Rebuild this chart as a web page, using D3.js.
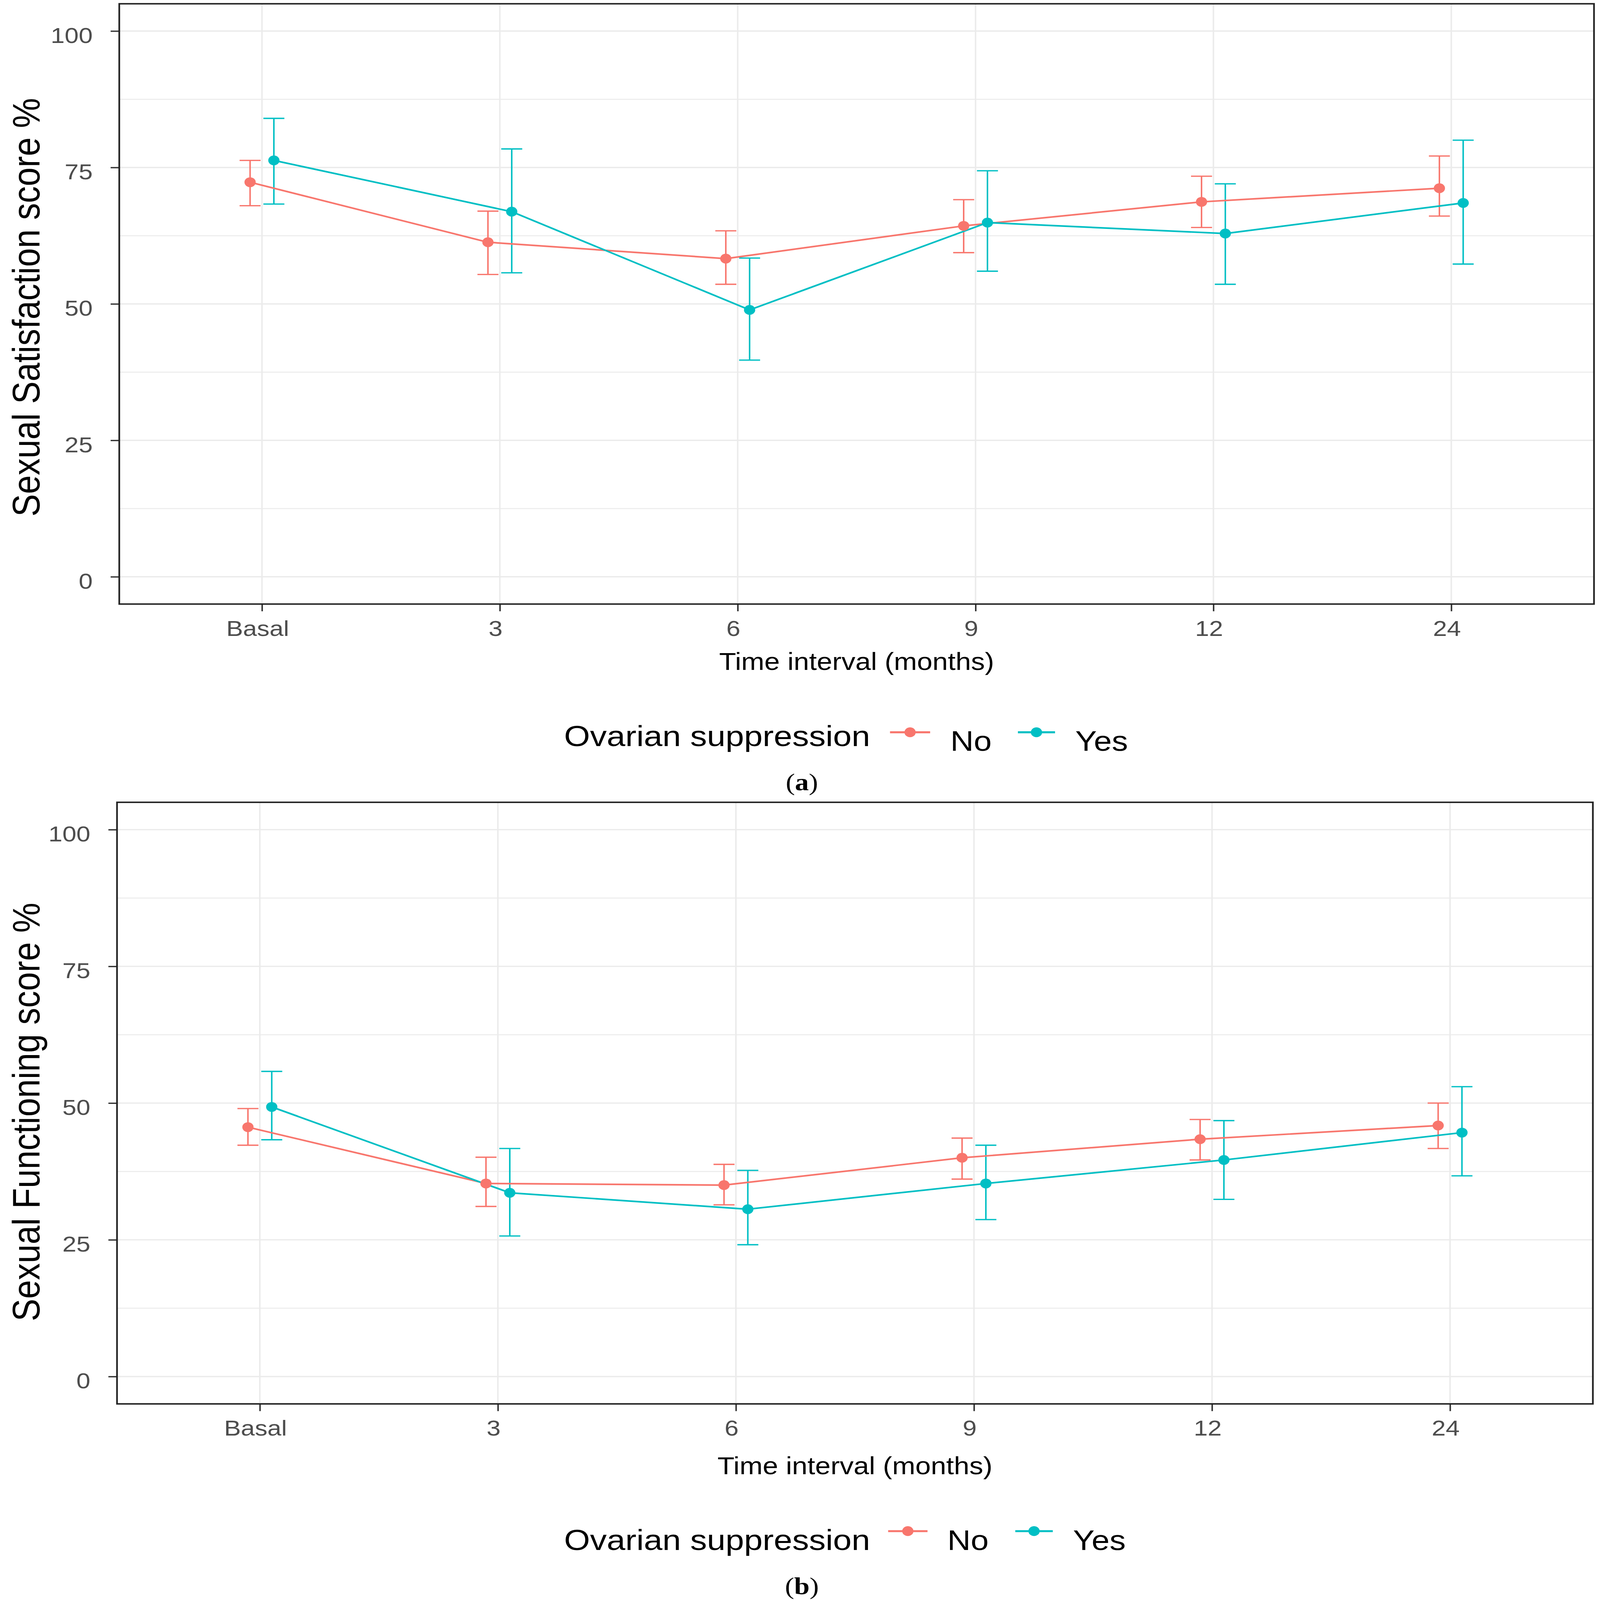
<!DOCTYPE html>
<html>
<head>
<meta charset="utf-8">
<script src="https://cdn.jsdelivr.net/npm/d3@7"></script>
<style>
  html, body { margin: 0; padding: 0; background: #ffffff; width: 100%; height: 100%; overflow: hidden; }
  svg { display: block; width: 100vw; height: 100vh; }
</style>
</head>
<body>
<svg id="chart" viewBox="0 0 4266 4879" preserveAspectRatio="none"></svg>
<script>
// ---------------- data ----------------
const categories = ["Basal", "3", "6", "9", "12", "24"];
const groups = ["No", "Yes"];
const yTicks = [0, 25, 50, 75, 100];
const yMinorTicks = [12.5, 37.5, 62.5, 87.5];

// (a) Sexual Satisfaction score %
const satNoMean = [72.3, 61.3, 58.3, 64.3, 68.7, 71.2];
const satNoLow  = [68.0, 55.4, 53.6, 59.4, 64.0, 66.1];
const satNoHigh = [76.3, 67.0, 63.4, 69.1, 73.4, 77.1];
const satYesMean = [76.3, 66.9, 48.9, 64.9, 62.9, 68.5];
const satYesLow  = [68.3, 55.7, 39.7, 56.0, 53.6, 57.3];
const satYesHigh = [84.0, 78.4, 58.4, 74.4, 72.0, 80.0];

// (b) Sexual Functioning score %
const funNoMean = [45.6, 35.3, 35.0, 40.0, 43.4, 45.9];
const funNoLow  = [42.3, 31.1, 31.4, 36.1, 39.6, 41.7];
const funNoHigh = [49.0, 40.1, 38.8, 43.6, 47.0, 50.0];
const funYesMean = [49.3, 33.6, 30.6, 35.3, 39.6, 44.6];
const funYesLow  = [43.3, 25.7, 24.1, 28.7, 32.4, 36.7];
const funYesHigh = [55.8, 41.7, 37.7, 42.3, 46.8, 53.0];

// ---------------- style ----------------
const colors = { No: "#F8766D", Yes: "#00BFC4" };
const SANS = "'Liberation Sans', Arial, Helvetica, sans-serif";
const SERIF = "'Liberation Serif', 'Times New Roman', serif";

function buildSeries(mean, low, high) {
  return categories.map((c, i) => ({ cat: c, y: mean[i], lo: low[i], hi: high[i] }));
}

const panels = [
  {
    ytitle: "Sexual Satisfaction score %",
    caption: "a",
    left: 318, right: 4250, top: 11.5, bottom: 1842,
    ytitleY: 937,
    series: { No: buildSeries(satNoMean, satNoLow, satNoHigh), Yes: buildSeries(satYesMean, satYesLow, satYesHigh) },
    legend: { keyY: 2233, titleBase: 2275, labelBase: 2290, key1: [2373, 2480], label1: 2534, key2: [2714, 2813], label2: 2867 },
    xTitleBase: 2043,
    captionBase: 2410
  },
  {
    ytitle: "Sexual Functioning score %",
    caption: "b",
    left: 312, right: 4247, top: 2446.5, bottom: 4281,
    ytitleY: 3391,
    series: { No: buildSeries(funNoMean, funNoLow, funNoHigh), Yes: buildSeries(funYesMean, funYesLow, funYesHigh) },
    legend: { keyY: 4669, titleBase: 4727, labelBase: 4726, key1: [2368, 2473], label1: 2526, key2: [2707, 2807], label2: 2861 },
    xTitleBase: 4496,
    captionBase: 4861
  }
];

const svg = d3.select("#chart");

panels.forEach(p => {
  const g = svg.append("g");
  const x = d3.scalePoint().domain(categories).range([p.left, p.right]).padding(0.6);
  const y = d3.scaleLinear().domain([-5, 105]).range([p.bottom, p.top]);
  const step = x.step();
  const dodge = { No: -0.05 * step, Yes: 0.05 * step };
  const capHalf = 28;

  // minor gridlines
  g.append("g").selectAll("line").data(yMinorTicks).join("line")
    .attr("x1", p.left).attr("x2", p.right)
    .attr("y1", d => y(d)).attr("y2", d => y(d))
    .attr("stroke", "#EBEBEB").attr("stroke-width", 3);
  // major gridlines
  g.append("g").selectAll("line").data(yTicks).join("line")
    .attr("x1", p.left).attr("x2", p.right)
    .attr("y1", d => y(d)).attr("y2", d => y(d))
    .attr("stroke", "#EBEBEB").attr("stroke-width", 4);
  g.append("g").selectAll("line").data(categories).join("line")
    .attr("x1", d => x(d)).attr("x2", d => x(d))
    .attr("y1", p.top).attr("y2", p.bottom)
    .attr("stroke", "#EBEBEB").attr("stroke-width", 4);

  // axes
  const yAxis = g.append("g")
    .attr("transform", `translate(${p.left},0)`)
    .call(d3.axisLeft(y).tickValues(yTicks).tickSize(23).tickPadding(48));
  yAxis.select(".domain").remove();
  yAxis.selectAll("line").attr("stroke", "#333333").attr("stroke-width", 4);
  yAxis.selectAll("text")
    .attr("fill", "#4D4D4D").attr("font-family", SANS).attr("font-size", 67)
    .attr("dy", "0.53em");

  const xAxis = g.append("g")
    .attr("transform", `translate(0,${p.bottom})`)
    .call(d3.axisBottom(x).tickSize(22));
  xAxis.select(".domain").remove();
  xAxis.selectAll("line").attr("stroke", "#333333").attr("stroke-width", 4);
  xAxis.selectAll("text")
    .attr("fill", "#4D4D4D").attr("font-family", SANS).attr("font-size", 67)
    .attr("y", 97).attr("dy", 0).attr("dx", -12);

  // error bars
  groups.forEach(grp => {
    const data = p.series[grp];
    const eg = g.append("g").attr("stroke", colors[grp]).attr("stroke-width", 4).attr("fill", "none");
    eg.selectAll("line.v").data(data).join("line").attr("class", "v")
      .attr("x1", d => x(d.cat) + dodge[grp]).attr("x2", d => x(d.cat) + dodge[grp])
      .attr("y1", d => y(d.lo)).attr("y2", d => y(d.hi));
    eg.selectAll("line.t").data(data).join("line").attr("class", "t")
      .attr("x1", d => x(d.cat) + dodge[grp] - capHalf).attr("x2", d => x(d.cat) + dodge[grp] + capHalf)
      .attr("y1", d => y(d.hi)).attr("y2", d => y(d.hi));
    eg.selectAll("line.b").data(data).join("line").attr("class", "b")
      .attr("x1", d => x(d.cat) + dodge[grp] - capHalf).attr("x2", d => x(d.cat) + dodge[grp] + capHalf)
      .attr("y1", d => y(d.lo)).attr("y2", d => y(d.lo));
  });

  // lines
  groups.forEach(grp => {
    const line = d3.line().x(d => x(d.cat) + dodge[grp]).y(d => y(d.y));
    g.append("path").datum(p.series[grp])
      .attr("d", line).attr("fill", "none")
      .attr("stroke", colors[grp]).attr("stroke-width", 5).attr("stroke-linejoin", "round");
  });

  // points
  groups.forEach(grp => {
    g.append("g").selectAll("circle").data(p.series[grp]).join("circle")
      .attr("cx", d => x(d.cat) + dodge[grp]).attr("cy", d => y(d.y))
      .attr("r", 15).attr("fill", colors[grp]);
  });

  // panel border
  g.append("rect")
    .attr("x", p.left).attr("y", p.top)
    .attr("width", p.right - p.left).attr("height", p.bottom - p.top)
    .attr("fill", "none").attr("stroke", "#222222").attr("stroke-width", 4.5);

  // axis titles
  g.append("text")
    .attr("x", (p.left + p.right) / 2).attr("y", p.xTitleBase)
    .attr("text-anchor", "middle").attr("font-family", SANS).attr("font-size", 74)
    .attr("fill", "#000").text("Time interval (months)");
  g.append("text")
    .attr("transform", `translate(105,${p.ytitleY}) rotate(-90)`)
    .attr("text-anchor", "middle").attr("font-family", SANS).attr("font-size", 103)
    .attr("fill", "#000").text(p.ytitle);

  // legend
  const L = p.legend;
  g.append("text").attr("x", 1504).attr("y", L.titleBase)
    .attr("font-family", SANS).attr("font-size", 89).attr("fill", "#000")
    .text("Ovarian suppression");
  const keys = [
    { grp: "No", k: L.key1, lx: L.label1 },
    { grp: "Yes", k: L.key2, lx: L.label2 }
  ];
  keys.forEach(kk => {
    g.append("line").attr("x1", kk.k[0]).attr("x2", kk.k[1])
      .attr("y1", L.keyY).attr("y2", L.keyY)
      .attr("stroke", colors[kk.grp]).attr("stroke-width", 6);
    g.append("circle").attr("cx", (kk.k[0] + kk.k[1]) / 2).attr("cy", L.keyY)
      .attr("r", 15).attr("fill", colors[kk.grp]);
    g.append("text").attr("x", kk.lx).attr("y", L.labelBase)
      .attr("font-family", SANS).attr("font-size", 86).attr("fill", "#000")
      .text(kk.grp);
  });

  // caption
  const cap = g.append("text").attr("x", 2138).attr("y", p.captionBase)
    .attr("text-anchor", "middle").attr("font-family", SERIF).attr("font-size", 74).attr("fill", "#000");
  cap.append("tspan").text("(");
  cap.append("tspan").attr("font-weight", "bold").text(p.caption);
  cap.append("tspan").text(")");
});
</script>
</body>
</html>
